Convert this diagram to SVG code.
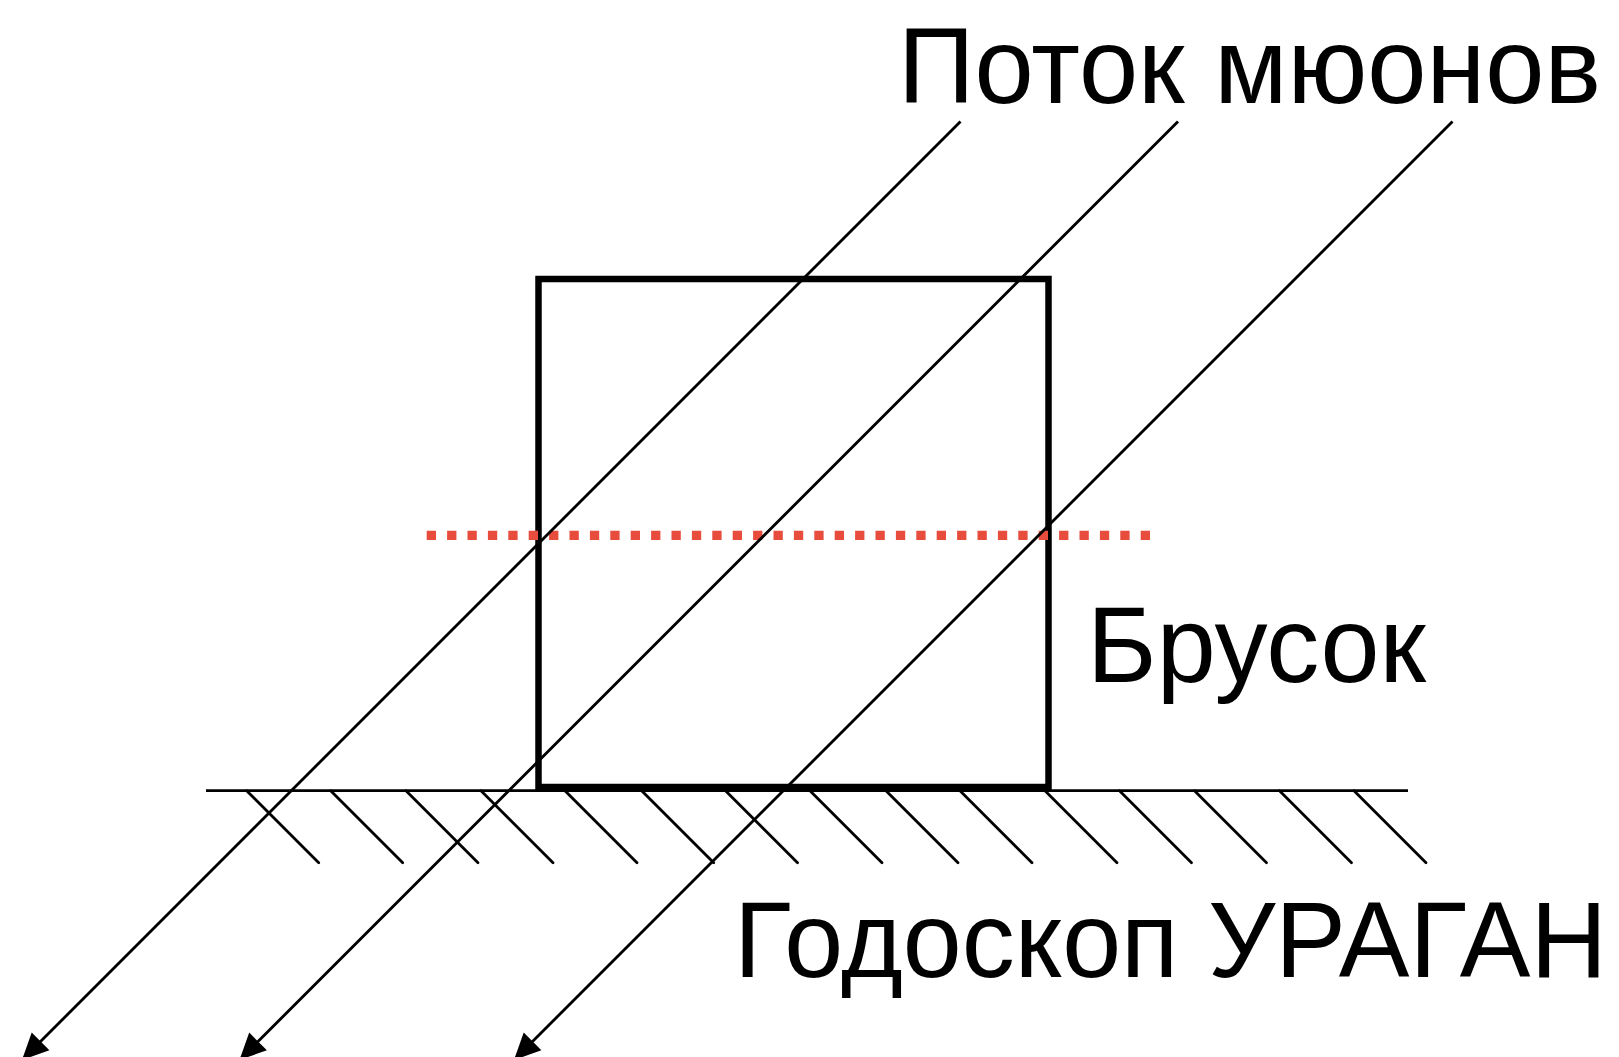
<svg xmlns="http://www.w3.org/2000/svg" width="1619" height="1057" viewBox="0 0 1619 1057">
<style>
.lbl{font-family:"Liberation Sans",Arial,sans-serif;font-size:108px;fill:#000}
.ray{stroke:#000;stroke-width:2.8;fill:none}
.hatch{stroke:#000;stroke-width:2.8;stroke-linecap:round}
</style>
<defs>
<marker id="ah" markerUnits="userSpaceOnUse" markerWidth="30" markerHeight="30" viewBox="-22 -11 24 22" refX="0" refY="0" orient="auto">
<path d="M0,0 L-21,-10 L-21,10 z" fill="#000"/>
</marker>
</defs>
<rect width="1619" height="1057" fill="#fff"/>
<g id="ground">
<line x1="206" y1="790.7" x2="1408" y2="790.7" stroke="#000" stroke-width="2.8"/>
<line class="hatch" x1="246.7" y1="790.7" x2="318.7" y2="862.7"/>
<line class="hatch" x1="330.7" y1="790.7" x2="402.7" y2="862.7"/>
<line class="hatch" x1="406" y1="790.7" x2="478" y2="862.7"/>
<line class="hatch" x1="481" y1="790.7" x2="553" y2="862.7"/>
<line class="hatch" x1="565" y1="790.7" x2="637" y2="862.7"/>
<line class="hatch" x1="641.7" y1="790.7" x2="713.7" y2="862.7"/>
<line class="hatch" x1="725.5" y1="790.7" x2="797.5" y2="862.7"/>
<line class="hatch" x1="810" y1="790.7" x2="882" y2="862.7"/>
<line class="hatch" x1="886" y1="790.7" x2="958" y2="862.7"/>
<line class="hatch" x1="960" y1="790.7" x2="1032" y2="862.7"/>
<line class="hatch" x1="1045" y1="790.7" x2="1117" y2="862.7"/>
<line class="hatch" x1="1119.5" y1="790.7" x2="1191.5" y2="862.7"/>
<line class="hatch" x1="1194.5" y1="790.7" x2="1266.5" y2="862.7"/>
<line class="hatch" x1="1279.5" y1="790.7" x2="1351.5" y2="862.7"/>
<line class="hatch" x1="1354" y1="790.7" x2="1426" y2="862.7"/>
</g>
<g id="block">
<rect x="538.5" y="279" width="510" height="508" fill="none" stroke="#000" stroke-width="6.5"/>
</g>
<g id="level">
<line x1="426.7" y1="535.3" x2="1150" y2="535.3" stroke="#e74c3c" stroke-width="9.3" stroke-dasharray="9.3 11.1"/>
</g>
<g id="connectors">
<line class="ray" x1="960.5" y1="121.5" x2="22" y2="1060" marker-end="url(#ah)"/>
<line class="ray" x1="1178" y1="121.5" x2="239.5" y2="1060" marker-end="url(#ah)"/>
<line class="ray" x1="1452.5" y1="121.5" x2="514" y2="1060" marker-end="url(#ah)"/>
</g>
<g id="label-flux">
<text class="lbl" x="898" y="103" textLength="703" lengthAdjust="spacingAndGlyphs">Поток мюонов</text>
</g>
<g id="label-block">
<text class="lbl" x="1087" y="681.5" textLength="339" lengthAdjust="spacingAndGlyphs">Брусок</text>
</g>
<g id="label-hodoscope">
<text class="lbl" x="734" y="977" textLength="873" lengthAdjust="spacingAndGlyphs">Годоскоп УРАГАН</text>
</g>
</svg>
